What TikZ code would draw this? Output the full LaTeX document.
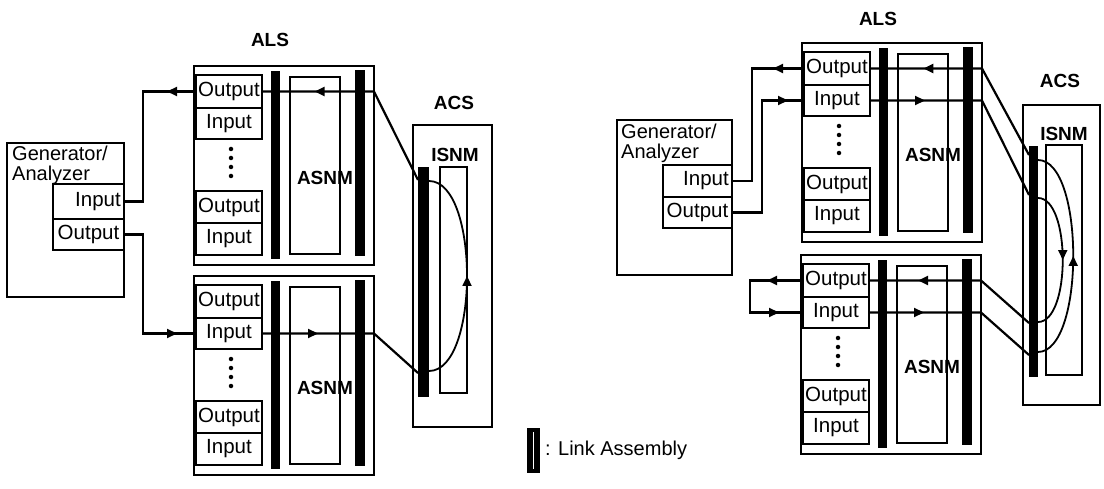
\documentclass[tikz,border=0pt]{standalone}
\usepackage{fontspec}
\setmainfont{Liberation Sans}
\usetikzlibrary{arrows.meta,decorations.markings,fit,calc}
\newcommand{\alsblock}[3]{%
\begin{scope}[shift={(#2,#3)}]
\node[box, fit={(0,0)(180,199)}] (#1box) {};
\node[box, fit={(2,9)(68,42)}, ptext=Output] (#1out1) {};
\node[box, fit={(2,42)(68,73)}, ptext=Input] (#1in1) {};
\node[dot] (#1d1) at (37,83) {};
\node[dot] (#1d2) at (37,92) {};
\node[dot] (#1d3) at (37,101) {};
\node[dot] (#1d4) at (37,110) {};
\node[box, fit={(2,125)(68,157)}, ptext=Output] (#1out2) {};
\node[box, fit={(2,157)(68,189)}, ptext=Input] (#1in2) {};
\node[bar, fit={(77,5)(86,193)}] (#1bara) {};
\node[box, fit={(96,11)(146,188)}] (#1asnm) {};
\node[lbl] (#1asnmt) at (131,112) {ASNM};
\node[bar, fit={(161,4)(171,190)}] (#1barb) {};
\end{scope}}
\begin{document}
\begin{tikzpicture}[x=1pt,y=-1pt,
  box/.style={draw, line width=1.6pt, inner sep=0pt, outer sep=0pt},
  pfont/.style={font=\fontsize{20.5}{22}\selectfont},
  ptext/.style={label={[pfont, inner sep=0pt, anchor=center]center:#1}},
  ptextr/.style={label={[pfont, inner sep=3pt, anchor=east]east:#1}},
  bar/.style={fill=black, inner sep=0pt, outer sep=0pt},
  lbl/.style={font=\bfseries\fontsize{19}{20}\selectfont, inner sep=0pt},
  txt/.style={font=\fontsize{20}{20}\selectfont, inner sep=0pt},
  conn/.style={line width=2.2pt, line join=miter},
  arcline/.style={line width=1.8pt},
  midarr/.style={postaction={decorate,decoration={markings,mark=at position #1 with {\arrow{Triangle[length=10pt,width=9pt]}}}}},
  dot/.style={circle, fill=black, inner sep=0pt, minimum size=4.5pt}
]
\fill[white] (0,0) rectangle (1104,489);
\useasboundingbox (0,0) rectangle (1104,489);

% ---------------- left diagram ----------------
\node[lbl] (LALS) at (270,40) {ALS};
\alsblock{LU}{194}{66}
\alsblock{LL}{194}{276}

\node[box, fit={(7,143)(124,297)}] (LG) {};
\node[txt, anchor=north west, align=left] (LGt) at (12,146) {Generator/\\Analyzer};
\node[box, fit={(53,184)(124,219)}, ptextr=Input] (LGin) {};
\node[box, fit={(53,219)(124,250)}, ptext=Output] (LGout) {};

\node[lbl] (LACS) at (454,103) {ACS};
\node[box, fit={(413,125)(492,427)}] (Lacs) {};
\node[lbl] (LISNMt) at (455,155) {ISNM};
\node[box, fit={(440,167)(467,393)}] (Lisnm) {};
\node[bar, fit={(418,167)(429,397)}] (Lacsbar) {};

\coordinate (LV1) at (143,0);
\coordinate (LacsT) at (418,180);
\coordinate (LacsB) at (418,373);
\coordinate (LarcT) at (429,181);
\coordinate (LarcB) at (429,371);

\draw[conn, midarr=158pt] (LacsT) -- (LUout1.east -| LUbox.east) -- (LUout1.east);
\draw[conn, midarr=29pt] (LUout1.west) -- (LUout1.west -| LV1) -- (LV1 |- LGin.east) -- (LGin.east);
\draw[conn, midarr=152pt] (LGout.east) -- (LGout.east -| LV1) -- (LV1 |- LLin1.west) -- (LLin1.west);
\draw[conn, midarr=56pt] (LLin1.east) -- (LLin1.east -| LLbox.east) -- (LacsB);
\draw[arcline, midarr=0.5] (LarcB) .. controls (479.7,371) and (479.7,181) .. (LarcT);

% ---------------- legend ----------------
\node[bar, fit={(527,428)(540,473)}] (leg) {};
\draw[white, line width=1pt] ($(leg.north)+(0,4)$) -- ($(leg.south)+(0,-4)$);
\node[txt, anchor=west] (legt) at (545,450) {: Link Assembly};

% ---------------- right diagram ----------------
\node[lbl] (RALS) at (878,19) {ALS};
\alsblock{RU}{802}{43}
\alsblock{RL}{801}{255}

\node[box, fit={(617,120)(732,275)}] (RG) {};
\node[txt, anchor=north west, align=left] (RGt) at (621,124) {Generator/\\Analyzer};
\node[box, fit={(663,165)(732,197)}, ptextr=Input] (RGin) {};
\node[box, fit={(663,197)(732,228)}, ptext=Output] (RGout) {};

\node[lbl] (RACS) at (1060,81) {ACS};
\node[box, fit={(1023,105)(1100,405)}] (Racs) {};
\node[lbl] (RISNMt) at (1064,134) {ISNM};
\node[box, fit={(1046,145)(1082,375)}] (Risnm) {};
\node[bar, fit={(1029,146)(1038,377)}] (Racsbar) {};

\coordinate (RV1) at (752,0);
\coordinate (RV2) at (762,0);
\coordinate (RV3) at (750,0);
\coordinate (RacsA) at (1029,155);
\coordinate (RacsB) at (1029,195);
\coordinate (RacsC) at (1029,323);
\coordinate (RacsD) at (1029,355);
\coordinate (RiT) at (1038,198);
\coordinate (RiB) at (1038,322);
\coordinate (RoT) at (1038,160);
\coordinate (RoB) at (1038,352);

\draw[conn, midarr=157pt] (RacsA) -- (RUout1.east -| RUbox.east) -- (RUout1.east);
\draw[conn, midarr=31pt] (RUout1.west) -- (RUout1.west -| RV1) -- (RV1 |- RGin.east) -- (RGin.east);
\draw[conn, midarr=168pt] (RGout.east) -- (RGout.east -| RV2) -- (RV2 |- RUin1.west) -- (RUin1.west);
\draw[conn, midarr=55pt] (RUin1.east) -- (RUin1.east -| RUbox.east) -- (RacsB);
\draw[arcline, midarr=0.5] (RiT) .. controls (1071,198) and (1071,322) .. (RiB);
\draw[conn, midarr=127pt] (RacsC) -- (RLout1.east -| RLbox.east) -- (RLout1.east);
\draw[conn, midarr=36pt, midarr=114pt] (RLout1.west) -- (RLout1.west -| RV3) -- (RV3 |- RLin1.west) -- (RLin1.west);
\draw[conn, midarr=55pt] (RLin1.east) -- (RLin1.east -| RLbox.east) -- (RacsD);
\draw[arcline, midarr=0.5] (RoB) .. controls (1085,352) and (1085,160) .. (RoT);
\end{tikzpicture}
\end{document}
